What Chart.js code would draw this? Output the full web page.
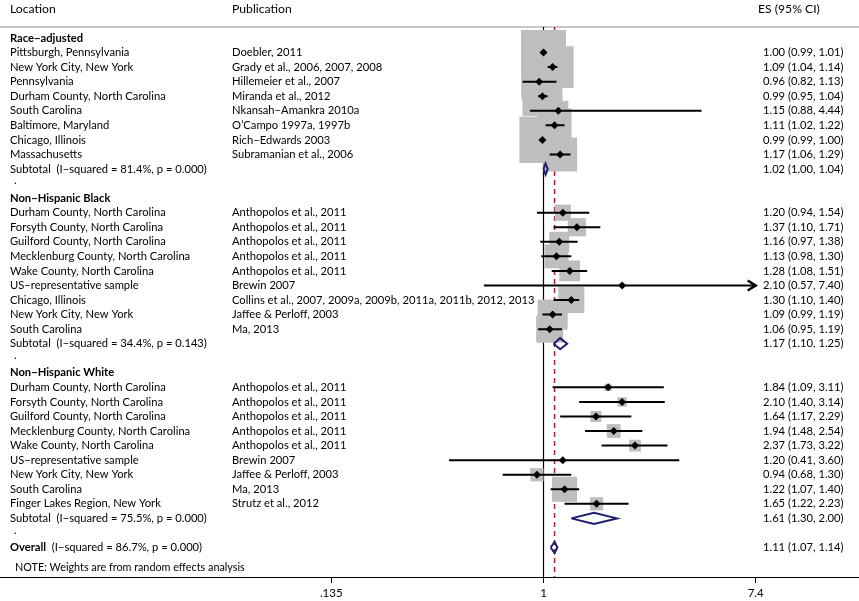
<!DOCTYPE html>
<html>
<head>
<meta charset="utf-8">
<script src="https://cdn.jsdelivr.net/npm/chart.js@4/dist/chart.umd.min.js"></script>
<style>
  body { margin: 0; background: #fff; }
  #wrap { width: 859px; height: 601px; position: relative; }
</style>
</head>
<body>
<div id="wrap"><canvas id="forest"></canvas></div>
<script>
// group titles
const groupNames = ['Race−adjusted', 'Non−Hispanic Black', 'Non−Hispanic White'];

// Race-adjusted
const raceLoc = ['Pittsburgh, Pennsylvania', 'New York City, New York', 'Pennsylvania', 'Durham County, North Carolina',
    'South Carolina', 'Baltimore, Maryland', 'Chicago, Illinois', 'Massachusetts'];
const racePub = ['Doebler, 2011', 'Grady et al., 2006, 2007, 2008', 'Hillemeier et al., 2007', 'Miranda et al., 2012',
    'Nkansah−Amankra 2010a', 'O’Campo 1997a, 1997b', 'Rich−Edwards 2003', 'Subramanian et al., 2006'];
const raceES = [1.00, 1.09, 0.96, 0.99, 1.15, 1.11, 0.99, 1.17];
const raceLo = [0.99, 1.04, 0.82, 0.95, 0.88, 1.02, 0.99, 1.06];
const raceHi = [1.01, 1.14, 1.13, 1.04, 4.44, 1.22, 1.00, 1.29];
const raceW = [11.6, 10.1, 7.4, 9.2, 2.3, 6.6, 12.2, 6.6];

// Non-Hispanic Black
const blackLoc = ['Durham County, North Carolina', 'Forsyth County, North Carolina', 'Guilford County, North Carolina',
    'Mecklenburg County, North Carolina', 'Wake County, North Carolina', 'US−representative sample',
    'Chicago, Illinois', 'New York City, New York', 'South Carolina'];
const blackPub = ['Anthopolos et al., 2011', 'Anthopolos et al., 2011', 'Anthopolos et al., 2011', 'Anthopolos et al., 2011',
    'Anthopolos et al., 2011', 'Brewin 2007', 'Collins et al., 2007, 2009a, 2009b, 2011a, 2011b, 2012, 2013',
    'Jaffee & Perloff, 2003', 'Ma, 2013'];
const blackES = [1.20, 1.37, 1.16, 1.13, 1.28, 2.10, 1.30, 1.09, 1.06];
const blackLo = [0.94, 1.10, 0.97, 0.98, 1.08, 0.57, 1.10, 0.99, 0.95];
const blackHi = [1.54, 1.71, 1.38, 1.30, 1.51, 7.40, 1.40, 1.19, 1.19];
const blackW = [1.5, 1.9, 2.3, 3.3, 2.5, 0.1, 3.9, 5.2, 4.2];

// Non-Hispanic White
const whiteLoc = ['Durham County, North Carolina', 'Forsyth County, North Carolina', 'Guilford County, North Carolina',
    'Mecklenburg County, North Carolina', 'Wake County, North Carolina', 'US−representative sample',
    'New York City, New York', 'South Carolina', 'Finger Lakes Region, New York'];
const whitePub = ['Anthopolos et al., 2011', 'Anthopolos et al., 2011', 'Anthopolos et al., 2011', 'Anthopolos et al., 2011',
    'Anthopolos et al., 2011', 'Brewin 2007', 'Jaffee & Perloff, 2003', 'Ma, 2013', 'Strutz et al., 2012'];
const whiteES = [1.84, 2.10, 1.64, 1.94, 2.37, 1.20, 0.94, 1.22, 1.65];
const whiteLo = [1.09, 1.40, 1.17, 1.48, 1.73, 0.41, 0.68, 1.07, 1.22];
const whiteHi = [3.11, 3.14, 2.29, 2.54, 3.22, 3.60, 1.30, 1.40, 2.23];
const whiteW = [0.3, 0.5, 0.7, 1.1, 0.8, 0.1, 1.0, 3.6, 1.0];

// subtotals and overall
const subLabels = ['(I−squared = 81.4%, p = 0.000)', '(I−squared = 34.4%, p = 0.143)', '(I−squared = 75.5%, p = 0.000)'];
const subES = [1.02, 1.17, 1.61];
const subLo = [1.00, 1.10, 1.30];
const subHi = [1.04, 1.25, 2.00];
const overallLabel = '(I−squared = 86.7%, p = 0.000)';
const overallES = 1.11;
const overallLo = 1.07;
const overallHi = 1.14;

// axis
const tickValues = [0.135, 1, 7.4];
const tickLabels = ['.135', '1', '7.4'];
const arrowLimit = 7.4;

const FONT = 'Lato, "Open Sans", sans-serif';
const FS = 11.2;
const PX_PER_LN = 106;
const ONE_PX = 543.5;
const W = 859;
const ROW0 = 38, ROW_H = 14.557, AXIS_Y = 577;

const groups = [
    { loc: raceLoc, pub: racePub, es: raceES, lo: raceLo, hi: raceHi, w: raceW },
    { loc: blackLoc, pub: blackPub, es: blackES, lo: blackLo, hi: blackHi, w: blackW },
    { loc: whiteLoc, pub: whitePub, es: whiteES, lo: whiteLo, hi: whiteHi, w: whiteW }
];

// lay the rows out
const textRows = [];
const studies = [];
const diamonds = [];
let row = 0;
groups.forEach((g, gi) => {
    textRows.push({ row: row, loc: groupNames[gi], bold: true });
    row++;
    g.loc.forEach((loc, i) => {
        studies.push({ row: row, es: g.es[i], lo: g.lo[i], hi: g.hi[i], w: g.w[i] });
        textRows.push({ row: row, loc: loc, pub: g.pub[i], es: fmt(g.es[i], g.lo[i], g.hi[i]) });
        row++;
    });
    diamonds.push({ row: row, es: subES[gi], lo: subLo[gi], hi: subHi[gi] });
    textRows.push({ row: row, loc: 'Subtotal  ' + subLabels[gi], es: fmt(subES[gi], subLo[gi], subHi[gi]) });
    row++;
    textRows.push({ row: row, loc: '.', dot: true });
    row++;
});
diamonds.push({ row: row, es: overallES, lo: overallLo, hi: overallHi });
textRows.push({ row: row, loc: 'Overall', rest: '  ' + overallLabel, bold: true, es: fmt(overallES, overallLo, overallHi) });
const overallRow = row;

function fmt(es, lo, hi) {
    return es.toFixed(2) + ' (' + lo.toFixed(2) + ', ' + hi.toFixed(2) + ')';
}

const yMin = -ROW0 / ROW_H;
const yMax = yMin + AXIS_Y / ROW_H;
const xMin = Math.exp(-ONE_PX / PX_PER_LN);
const xMax = Math.exp((W - ONE_PX) / PX_PER_LN);
const headerRow = (27 - ROW0) / ROW_H;

// datasets
const ciData = [];
studies.forEach(s => {
    ciData.push({ x: s.lo, y: s.row }, { x: s.hi, y: s.row }, { x: null, y: null });
});
const diamondData = [];
diamonds.forEach(d => {
    diamondData.push({ x: d.lo, y: d.row }, { x: d.es, y: d.row - 0.38 }, { x: d.hi, y: d.row },
        { x: d.es, y: d.row + 0.38 }, { x: d.lo, y: d.row }, { x: null, y: null });
});

const textPlugin = {
    id: 'forestText',
    beforeDatasetsDraw(chart) {
        const c = chart.ctx;
        const y = chart.scales.y;
        c.save();
        c.strokeStyle = '#c8c8c8';
        c.lineWidth = 2;
        c.beginPath();
        c.moveTo(0, y.getPixelForValue(headerRow));
        c.lineTo(W, y.getPixelForValue(headerRow));
        c.stroke();
        c.restore();
    },
    afterDatasetsDraw(chart) {
        const c = chart.ctx;
        const x = chart.scales.x;
        const y = chart.scales.y;
        c.save();
        // arrow heads where a CI runs to the edge of the plot
        c.strokeStyle = '#000';
        c.lineWidth = 2.5;
        studies.filter(s => s.hi >= arrowLimit).forEach(s => {
            const px = x.getPixelForValue(s.hi);
            const py = y.getPixelForValue(s.row);
            c.beginPath();
            c.moveTo(px - 8, py - 5);
            c.lineTo(px, py);
            c.lineTo(px - 8, py + 5);
            c.stroke();
        });

        c.fillStyle = '#000';
        c.textBaseline = 'middle';
        c.font = '12.2px ' + FONT;
        const hy = y.getPixelForValue(-2);
        c.fillText('Location', 10, hy);
        c.fillText('Publication', 232, hy);
        c.fillText('ES (95% CI)', 758, hy);

        textRows.forEach(t => {
            const py = y.getPixelForValue(t.row);
            c.font = (t.bold ? 'bold ' : '') + FS + 'px ' + FONT;
            c.fillText(t.loc, t.dot ? 14 : 10, t.dot ? py - 3 : py);
            if (t.rest) {
                const wd = c.measureText(t.loc).width;
                c.font = FS + 'px ' + FONT;
                c.fillText(t.rest, 10 + wd, py);
            }
            c.font = FS + 'px ' + FONT;
            if (t.pub) c.fillText(t.pub, 232, py);
            if (t.es) c.fillText(t.es, 763, py);
        });
        c.font = '10.8px ' + FONT;
        c.fillText('NOTE: Weights are from random effects analysis', 15, y.getPixelForValue(overallRow + 1.4));
        c.restore();
    }
};

new Chart(document.getElementById('forest'), {
    type: 'scatter',
    data: {
        datasets: [
            {
                // point estimates
                data: studies.map(s => ({ x: s.es, y: s.row })),
                pointStyle: 'rectRot',
                pointRadius: 4,
                backgroundColor: '#000',
                borderWidth: 0,
                order: 1
            },
            {
                // confidence intervals
                type: 'line',
                data: ciData,
                borderColor: '#000',
                borderWidth: 2,
                pointRadius: 0,
                spanGaps: false,
                fill: false,
                order: 2
            },
            {
                // pooled diamonds
                type: 'line',
                data: diamondData,
                borderColor: '#1c1c70',
                borderWidth: 2,
                pointRadius: 0,
                spanGaps: false,
                fill: false,
                order: 3
            },
            {
                // weight boxes
                data: studies.map(s => ({ x: s.es, y: s.row })),
                pointStyle: 'rect',
                pointRadius: studies.map(s => 13.2 * Math.sqrt(s.w) / Math.SQRT2),
                backgroundColor: '#bebebe',
                borderWidth: 0,
                order: 4
            },
            {
                // overall effect
                type: 'line',
                data: [{ x: overallES, y: headerRow }, { x: overallES, y: yMax }],
                borderColor: '#a3213a',
                borderWidth: 1.5,
                borderDash: [5, 4],
                pointRadius: 0,
                order: 5
            },
            {
                // line of no effect
                type: 'line',
                data: [{ x: 1, y: headerRow }, { x: 1, y: yMax }],
                borderColor: '#000',
                borderWidth: 1.2,
                pointRadius: 0,
                order: 6
            }
        ]
    },
    options: {
        responsive: true,
        maintainAspectRatio: false,
        animation: false,
        layout: { padding: 0, autoPadding: false },
        plugins: { legend: { display: false }, tooltip: { enabled: false } },
        scales: {
            x: {
                type: 'logarithmic',
                position: 'bottom',
                min: xMin,
                max: xMax,
                afterBuildTicks: scale => { scale.ticks = tickValues.map(v => ({ value: v })); },
                afterFit: scale => { scale.height = 601 - AXIS_Y; },
                grid: { drawOnChartArea: false, drawTicks: true, tickLength: 6, color: '#000', lineWidth: 1 },
                border: { display: true, color: '#000', width: 1 },
                ticks: {
                    color: '#000',
                    font: { family: FONT, size: 11.5 },
                    padding: 3,
                    maxRotation: 0,
                    autoSkip: false,
                    callback: v => tickLabels[tickValues.indexOf(v)]
                }
            },
            y: {
                type: 'linear',
                reverse: true,
                min: yMin,
                max: yMax,
                display: false
            }
        }
    },
    plugins: [textPlugin]
});
</script>
</body>
</html>
